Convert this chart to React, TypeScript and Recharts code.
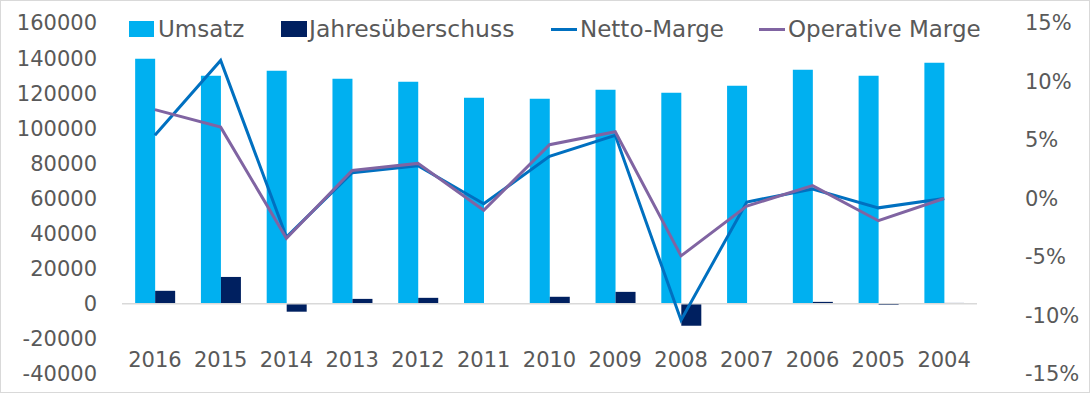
import React from 'react';
import { ComposedChart, Bar, Line, XAxis, YAxis, ReferenceLine, Legend } from 'recharts';

const years = ['2016', '2015', '2014', '2013', '2012', '2011', '2010', '2009', '2008', '2007', '2006', '2005', '2004'];
const umsatz = [139600, 129900, 132800, 128200, 126500, 117400, 116900, 122000, 120300, 124300, 133300, 129900, 137300];
const jahresueberschuss = [7400, 15300, -4500, 2800, 3400, 0, 4000, 6800, -12500, 0, 1100, -700, 500];
const nettoMarge = [5.4, 11.8, -3.3, 2.2, 2.8, -0.45, 3.6, 5.4, -10.4, -0.3, 0.8, -0.8, 0.0];
const operativeMarge = [7.6, 6.1, -3.4, 2.4, 3.0, -1.0, 4.6, 5.7, -4.9, -0.65, 1.1, -1.9, 0.0];

const leftTicks = [-40000, -20000, 0, 20000, 40000, 60000, 80000, 100000, 120000, 140000, 160000];
const rightTicks = [-15, -10, -5, 0, 5, 10, 15];

const seriesNames = ['Umsatz', 'Jahresüberschuss', 'Netto-Marge', 'Operative Marge'];
const COLORS = { umsatz: '#00B0F0', jahres: '#002060', netto: '#0070C0', operativ: '#8064A2' };
const TEXT = '#595959';
const FONT = '"DejaVu Sans", sans-serif';

const data = years.map((y, i) => ({
  year: y,
  umsatz: umsatz[i],
  jahres: jahresueberschuss[i],
  netto: nettoMarge[i],
  operativ: operativeMarge[i],
}));

const XTick = (props: any) => {
  const { x, y, payload } = props;
  return (
    <text x={x} y={y} dy={-22} textAnchor="middle" dominantBaseline="central" fill={TEXT} fontSize={21} fontFamily={FONT}>
      {payload.value}
    </text>
  );
};

const LegendContent = () => (
  <svg width={1090} height={45} style={{ display: 'block' }}>
    <rect x={129} y={21} width={25} height={16} fill={COLORS.umsatz} />
    <text x={158} y={37} fill={TEXT} fontSize={23} fontFamily={FONT}>{seriesNames[0]}</text>
    <rect x={281} y={21} width={26} height={16} fill={COLORS.jahres} />
    <text x={309} y={37} fill={TEXT} fontSize={23.5} fontFamily={FONT}>{seriesNames[1]}</text>
    <line x1={551} x2={577} y1={29.5} y2={29.5} stroke={COLORS.netto} strokeWidth={3} />
    <text x={580} y={37} fill={TEXT} fontSize={23} fontFamily={FONT}>{seriesNames[2]}</text>
    <line x1={759} x2={785} y1={29.5} y2={29.5} stroke={COLORS.operativ} strokeWidth={3} />
    <text x={788} y={37} fill={TEXT} fontSize={23} fontFamily={FONT}>{seriesNames[3]}</text>
  </svg>
);

export default function App() {
  return (
    <div style={{ position: 'absolute', left: 0, top: 0, width: 1090, height: 393, background: '#fff' }}>
      <ComposedChart
        width={1090}
        height={393}
        data={data}
        margin={{ top: 23, right: 0, bottom: 0, left: 0 }}
        barCategoryGap="20%"
        barGap={0}
      >
        <XAxis dataKey="year" axisLine={false} tickLine={false} interval={0} height={19} tick={<XTick />} />
        <YAxis
          yAxisId="left"
          orientation="left"
          width={122}
          domain={[-40000, 160000]}
          ticks={leftTicks}
          interval={0}
          axisLine={false}
          tickLine={false}
          tickMargin={19}
          tick={{ fill: TEXT, fontSize: 21, fontFamily: FONT }}
        />
        <YAxis
          yAxisId="right"
          orientation="right"
          width={113}
          domain={[-15, 15]}
          ticks={rightTicks}
          interval={0}
          axisLine={false}
          tickLine={false}
          tickMargin={42}
          tickFormatter={(v: number) => `${v}%`}
          tick={{ fill: TEXT, fontSize: 21, fontFamily: FONT, textAnchor: 'start' }}
        />
        <ReferenceLine yAxisId="left" y={0} stroke="#d9d9d9" strokeWidth={1.5} />
        <Bar yAxisId="left" dataKey="umsatz" name={seriesNames[0]} fill={COLORS.umsatz} isAnimationActive={false} />
        <Bar yAxisId="left" dataKey="jahres" name={seriesNames[1]} fill={COLORS.jahres} isAnimationActive={false} />
        <Line yAxisId="right" type="linear" dataKey="netto" name={seriesNames[2]} stroke={COLORS.netto} strokeWidth={3} dot={false} activeDot={false} isAnimationActive={false} />
        <Line yAxisId="right" type="linear" dataKey="operativ" name={seriesNames[3]} stroke={COLORS.operativ} strokeWidth={3} dot={false} activeDot={false} isAnimationActive={false} />
        <Legend
          verticalAlign="middle"
          align="center"
          content={<LegendContent />}
          wrapperStyle={{ top: 0, left: 0, width: 1090, height: 45 }}
        />
      </ComposedChart>
      <div style={{ position: 'absolute', left: 0, top: 0, width: 1090, height: 393, boxSizing: 'border-box', border: '1px solid #d9d9d9', pointerEvents: 'none' }} />
    </div>
  );
}
